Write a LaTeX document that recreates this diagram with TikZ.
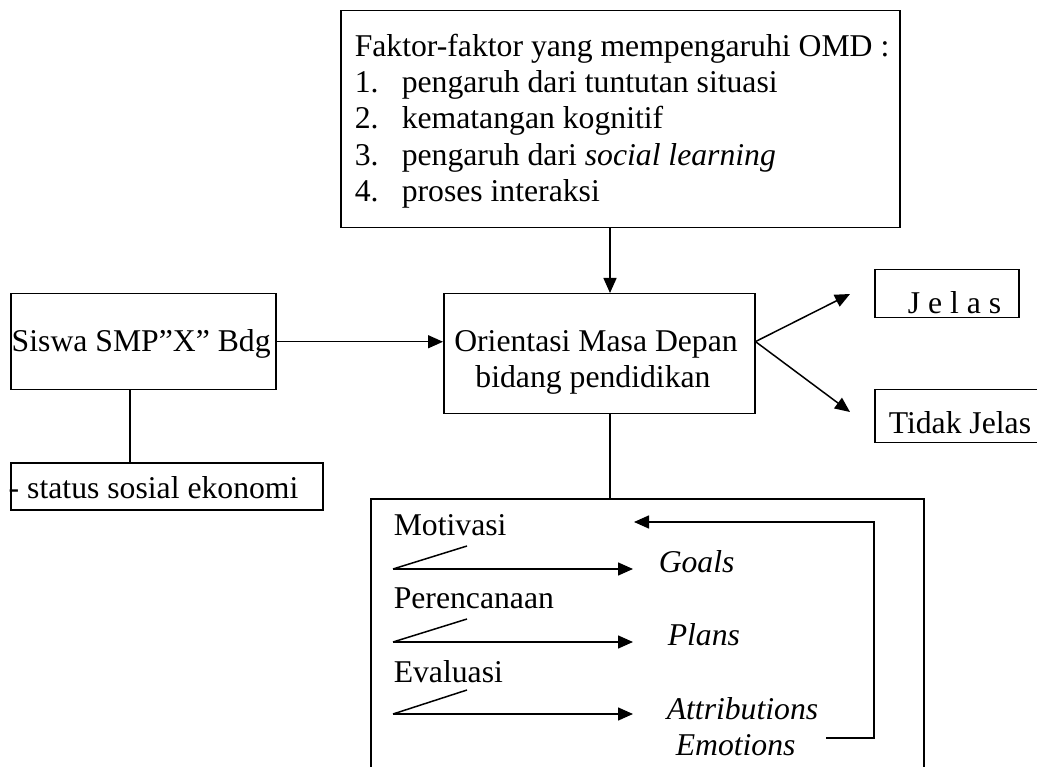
\documentclass[tikz,border=0pt]{standalone}
\usepackage{fontspec}
\setmainfont{Liberation Serif}
\usetikzlibrary{arrows.meta,calc}
\newcommand{\omdfont}{\fontsize{31.7}{36.3}\selectfont}

\begin{document}
\begin{tikzpicture}[x=1pt, y=-1pt, line width=1.5pt,
  kotak/.style={draw, anchor=north west, inner sep=0pt},
  teks/.style={anchor=base west, inner sep=0pt, font=\omdfont},
  panah/.style={-{Triangle[length=15pt,width=13pt]}}]
\useasboundingbox (0,0) rectangle (1037,767);
\clip (0,0) rectangle (1037,767);

            \node[kotak, minimum width=559pt, minimum height=217pt] (faktor) at (340,10) {};
            \node[teks] (judul) at (354,57) {Faktor-faktor yang mempengaruhi OMD :};
            \node[teks] (n1) at (354,93) {1.};
            \node[teks] (f1) at (401,93) {pengaruh dari tuntutan situasi};
            \node[teks] (n2) at (354,129) {2.};
            \node[teks] (f2) at (401,129) {kematangan kognitif};
            \node[teks] (n3) at (354,166) {3.};
            \node[teks] (f3) at (401,166) {pengaruh dari \textit{social learning}};
            \node[teks] (n4) at (354,202) {4.};
            \node[teks] (f4) at (401,202) {proses interaksi};

            \node[kotak, minimum width=311pt, minimum height=120pt] (omd) at (443,293) {};
            \node[teks, anchor=base] (omd1) at (596,352) {Orientasi Masa Depan};
            \node[teks, anchor=base] (omd2) at (593,388) {bidang pendidikan};

            \node[kotak, minimum width=265pt, minimum height=96pt] (siswa) at (10,293) {};
            \node[teks] (siswat) at (11,352) {Siswa SMP”X” Bdg};

            \node[kotak, minimum width=312pt, minimum height=47pt] (status) at (10,462) {};
            \node[teks] (statust) at (8,498) {- status sosial ekonomi};

            \node[kotak, minimum width=144pt, minimum height=48pt] (jelas) at (874,269) {};
            \node[teks] (jelast) at (907,314) {J e l a s};

            \node[kotak, minimum width=200pt, minimum height=53pt] (tidak) at (874,389) {};
            \node[teks] (tidakt) at (888,434) {Tidak Jelas};

            \node[kotak, minimum width=553pt, minimum height=320pt] (rincian) at (370,498) {};
            \node[teks] (motivasi) at (393,535) {Motivasi};
            \node[teks] (goals) at (658,572) {\textit{Goals}};
            \node[teks] (perencanaan) at (393,608) {Perencanaan};
            \node[teks] (plans) at (667,645) {\textit{Plans}};
            \node[teks] (evaluasi) at (393,682) {Evaluasi};
            \node[teks] (attr) at (666,719) {\textit{Attributions}};
            \node[teks] (emosi) at (675,755) {\textit{Emotions}};

            \coordinate (jalur) at (610,0);
            \coordinate (cabang) at (130,0);
            \draw[panah] (faktor.south -| jalur) -- (omd.north -| jalur);
            \draw (omd.south -| jalur) -- (rincian.north -| jalur);
            \draw[panah] (siswa.east) -- (omd.west |- siswa.east);
            \draw (siswa.south -| cabang) -- (status.north -| cabang);

            \coordinate (keluar) at ($(omd.north east)!0.4!(omd.south east)$);
            \coordinate (ujungjelas) at (850,294);
            \coordinate (ujungtidak) at (850,412);
            \draw[panah] (keluar) -- (ujungjelas);
            \draw[panah] (keluar) -- (ujungtidak);

            \coordinate (m1) at (393,569);
            \coordinate (m1e) at (633,569);
            \coordinate (m2) at (393,642);
            \coordinate (m2e) at (633,642);
            \coordinate (m3) at (393,714);
            \coordinate (m3e) at (633,714);
            \draw (m1) -- ++(74,-23);
            \draw[panah] (m1) -- (m1e);
            \draw (m2) -- ++(74,-23);
            \draw[panah] (m2) -- (m2e);
            \draw (m3) -- ++(74,-24);
            \draw[panah] (m3) -- (m3e);

            \coordinate (balik) at (826,738);
            \coordinate (balike) at (634,522);
            \draw[panah] (balik) -- ++(48,0) |- (balike);
\end{tikzpicture}
\end{document}
